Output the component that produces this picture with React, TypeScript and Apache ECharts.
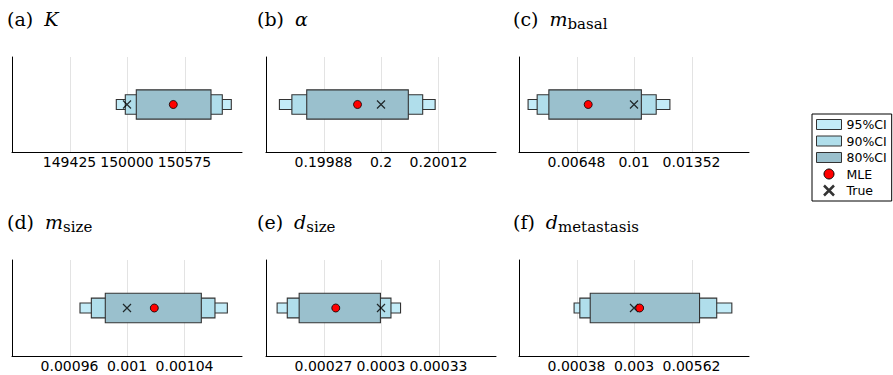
import React, { useEffect, useRef } from "react";
import * as echarts from "echarts";

// ---- data ----
const panelLabels = ["(a)", "(b)", "(c)", "(d)", "(e)", "(f)"];
const paramSymbols = ["K", "α", "m", "m", "d", "d"];
const paramSubscripts = ["", "", "basal", "size", "size", "metastasis"];

const trueValues = [150000, 0.2, 0.01, 0.001, 0.0003, 0.003];
const mleValues = [150463, 0.199951, 0.007197, 0.001019, 0.0002764, 0.003257];

const ci95Low = [149893, 0.199788, 0.003516, 0.0009673, 0.0002458, 0.00027];
const ci95High = [151043, 0.200113, 0.012198, 0.0010698, 0.0003102, 0.007458];
const ci90Low = [149983, 0.199814, 0.004072, 0.0009752, 0.0002511, 0.000532];
const ci90High = [150953, 0.200087, 0.011359, 0.0010612, 0.0003052, 0.006769];
const ci80Low = [150093, 0.199845, 0.004788, 0.0009849, 0.0002573, 0.001005];
const ci80High = [150840, 0.200057, 0.010451, 0.0010517, 0.0002997, 0.005987];

const tickValues = [
  [149425, 150000, 150575],
  [0.19988, 0.2, 0.20012],
  [0.00648, 0.01, 0.01352],
  [0.00096, 0.001, 0.00104],
  [0.00027, 0.0003, 0.00033],
  [0.00038, 0.003, 0.00562],
];
const axisMin = [148850, 0.19976, 0.00296, 0.00092, 0.00024, -0.00224];
const axisMax = [151150, 0.20024, 0.01704, 0.00108, 0.00036, 0.00824];

const legendNames = ["95%CI", "90%CI", "80%CI", "MLE", "True"];

// ---- styles / layout ----
const COLOR95 = "#c3ecf8";
const COLOR90 = "#b0deeb";
const COLOR80 = "#9ac0cd";
const BOX_STROKE = "#333333";
const X_PATH = "path://M0,0L10,10M10,0L0,10";

const gridLefts = [12, 266, 519];
const gridWidth = 230;
const gridTops = [57, 260];
const gridHeights = [95, 96];
const titleLefts = [7, 257, 513];
const titleTops = [7, 210];

const fmt = (v: number) => String(parseFloat(Number(v).toPrecision(10)));

export default function App() {
  const ref = useRef<HTMLDivElement>(null);

  useEffect(() => {
    if (!ref.current) return;
    const chart = echarts.init(ref.current, undefined, { renderer: "svg" });

    const grids: any[] = [];
    const xAxes: any[] = [];
    const yAxes: any[] = [];
    const titles: any[] = [];
    const series: any[] = [];

    const boxRender = (half: number, fill: string) => (params: any, api: any) => {
      const a = api.coord([api.value(0), 0.5 + half]);
      const b = api.coord([api.value(1), 0.5 - half]);
      return {
        type: "rect",
        shape: { x: a[0], y: a[1], width: b[0] - a[0], height: b[1] - a[1] },
        style: { fill, stroke: BOX_STROKE, lineWidth: 1.1 },
      };
    };

    const gridLineRender = (params: any, api: any) => {
      const cs = params.coordSys;
      const p = api.coord([api.value(0), 0]);
      const x = Math.round(p[0]) + 0.5;
      return {
        type: "line",
        shape: { x1: x, y1: cs.y, x2: x, y2: cs.y + cs.height },
        style: { stroke: "#e3e3e3", lineWidth: 1 },
      };
    };

    const serif = { fontFamily: "DejaVu Serif", color: "#000", fontWeight: "normal" };

    for (let i = 0; i < 6; i++) {
      const row = Math.floor(i / 3);
      const col = i % 3;
      grids.push({
        left: gridLefts[col],
        top: gridTops[row],
        width: gridWidth,
        height: gridHeights[row],
        containLabel: false,
      });
      xAxes.push({
        type: "value",
        gridIndex: i,
        min: axisMin[i],
        max: axisMax[i],
        axisLine: { show: true, onZero: false, lineStyle: { color: "#000", width: 1 } },
        axisTick: { show: false },
        splitLine: { show: false },
        axisLabel: {
          show: true,
          customValues: tickValues[i],
          formatter: fmt,
          margin: 3,
          color: "#000",
          fontFamily: "DejaVu Sans",
          fontSize: 14,
          hideOverlap: false,
        },
      });
      yAxes.push({
        type: "value",
        gridIndex: i,
        min: 0,
        max: 1,
        axisLine: { show: true, onZero: false, lineStyle: { color: "#000", width: 1 } },
        axisTick: { show: false },
        axisLabel: { show: false },
        splitLine: { show: false },
      });

      const sub = paramSubscripts[i] ? `{s|${paramSubscripts[i]}}` : "";
      titles.push({
        left: titleLefts[col],
        top: titleTops[row],
        padding: 0,
        text: `{p|${panelLabels[i]}}{m|${paramSymbols[i]}}${sub}`,
        textStyle: {
          fontWeight: "normal",
          rich: {
            p: { ...serif, fontSize: 19, lineHeight: 24, verticalAlign: "middle" },
            m: {
              ...serif,
              fontStyle: "italic",
              fontSize: 19,
              lineHeight: 24,
              verticalAlign: "middle",
              padding: [0, 0, 0, 11],
            },
            s: { ...serif, fontSize: 15, lineHeight: 15, verticalAlign: "bottom" },
          },
        },
      });

      series.push({
        type: "custom",
        name: `grid-${i}`,
        xAxisIndex: i,
        yAxisIndex: i,
        silent: true,
        z: 1,
        data: tickValues[i].map((v) => [v, 0]),
        encode: { x: 0, y: 1 },
        renderItem: gridLineRender,
      });
      const levels: [string, number[], number[], number, string][] = [
        ["95%CI", ci95Low, ci95High, 0.052, COLOR95],
        ["90%CI", ci90Low, ci90High, 0.103, COLOR90],
        ["80%CI", ci80Low, ci80High, 0.154, COLOR80],
      ];
      levels.forEach(([name, lo, hi, half, color], k) => {
        series.push({
          type: "custom",
          name,
          xAxisIndex: i,
          yAxisIndex: i,
          z: 2 + k * 0.1,
          itemStyle: { color, borderColor: BOX_STROKE, borderWidth: 1 },
          data: [[lo[i], hi[i]]],
          encode: { x: [0, 1] },
          renderItem: boxRender(half, color),
        });
      });
      series.push({
        type: "scatter",
        name: "True",
        xAxisIndex: i,
        yAxisIndex: i,
        z: 3,
        symbol: X_PATH,
        symbolSize: 8,
        itemStyle: { color: "rgba(0,0,0,0)", borderColor: "#000", borderWidth: 1.2 },
        data: [[trueValues[i], 0.5]],
      });
      series.push({
        type: "scatter",
        name: "MLE",
        xAxisIndex: i,
        yAxisIndex: i,
        z: 4,
        symbol: "circle",
        symbolSize: 8,
        itemStyle: { color: "#ff0000", borderColor: "#000", borderWidth: 0.8, opacity: 1 },
        data: [[mleValues[i], 0.5]],
      });
    }

    const legendIcons: Record<string, any> = {
      "95%CI": { icon: "rect", itemStyle: { color: COLOR95, borderColor: BOX_STROKE, borderWidth: 1 } },
      "90%CI": { icon: "rect", itemStyle: { color: COLOR90, borderColor: BOX_STROKE, borderWidth: 1 } },
      "80%CI": { icon: "rect", itemStyle: { color: COLOR80, borderColor: BOX_STROKE, borderWidth: 1 } },
      MLE: { icon: "circle", itemStyle: { color: "#ff0000", borderColor: "#000", borderWidth: 1 } },
      True: { icon: X_PATH, itemStyle: { color: "rgba(0,0,0,0)", borderColor: "#000", borderWidth: 2.5 } },
    };

    chart.setOption({
      animation: false,
      backgroundColor: "#fff",
      title: titles,
      grid: grids,
      xAxis: xAxes,
      yAxis: yAxes,
      legend: {
        orient: "vertical",
        left: 812,
        top: 114,
        itemWidth: 25,
        itemHeight: 10,
        itemGap: 3.5,
        padding: [4, 5, 4, 4],
        borderColor: "#000",
        borderWidth: 1,
        backgroundColor: "#fff",
        selectedMode: false,
        textStyle: { fontFamily: "DejaVu Sans", fontSize: 12.5, color: "#000" },
        data: legendNames.map((n) => ({ name: n, ...legendIcons[n] })),
      },
      series,
    });

    return () => chart.dispose();
  }, []);

  return (
    <div
      ref={ref}
      style={{ position: "absolute", left: 0, top: 0, width: 893, height: 375 }}
    />
  );
}
